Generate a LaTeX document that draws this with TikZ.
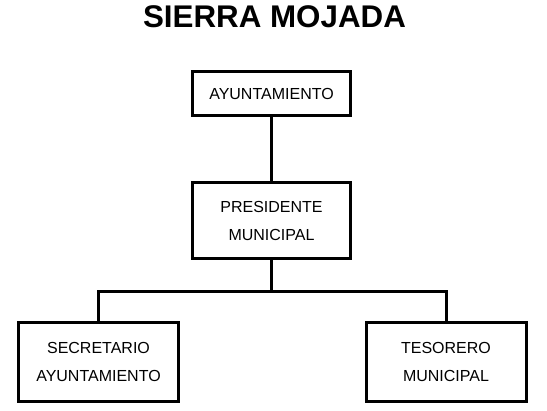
\documentclass[tikz,border=0pt]{standalone}
\usepackage{fontspec}
\setmainfont{Liberation Sans}
\usetikzlibrary{positioning}
\tikzset{
    box/.style={
        draw=black, fill=white,
        minimum width=#1, line width=2.25pt,
        font=\fontsize{12}{21}\selectfont, align=center,
    },
    link/.style={
        draw=black, line width=2.25pt,
    },
    title/.style={
        font=\fontsize{23.5}{28}\selectfont\bfseries,
    },
}
\begin{document}
\begin{tikzpicture}[x=0.75pt, y=-0.75pt]
\useasboundingbox (0,0) rectangle (547,411);

% ── Title ────────────────────────────────────────────────────
\node[title, anchor=base] (titulo) at (274.5,27) {SIERRA MOJADA};

% ── Top levels ───────────────────────────────────────────────
\node[box=118.5pt, minimum height=33pt] (ayun) at (271.5,93.5) {AYUNTAMIENTO};
\node[box=118.5pt, minimum height=57pt, below=48pt of ayun] (pres) {PRESIDENTE\\MUNICIPAL};

% ── Bottom level ─────────────────────────────────────────────
\node[box=120pt, minimum height=59.25pt] (secre) at (98.5,362) {SECRETARIO\\AYUNTAMIENTO};
\node[box=120pt, minimum height=59.25pt] (teso) at (446,362) {TESORERO\\MUNICIPAL};

% ── Connectors ───────────────────────────────────────────────
\draw[link] (ayun.south) -- (pres.north);
\draw[link] (pres.south) -- ++(0,31) coordinate (split);
\draw[link] (secre.north) |- (split) -| (teso.north);

\end{tikzpicture}
\end{document}
